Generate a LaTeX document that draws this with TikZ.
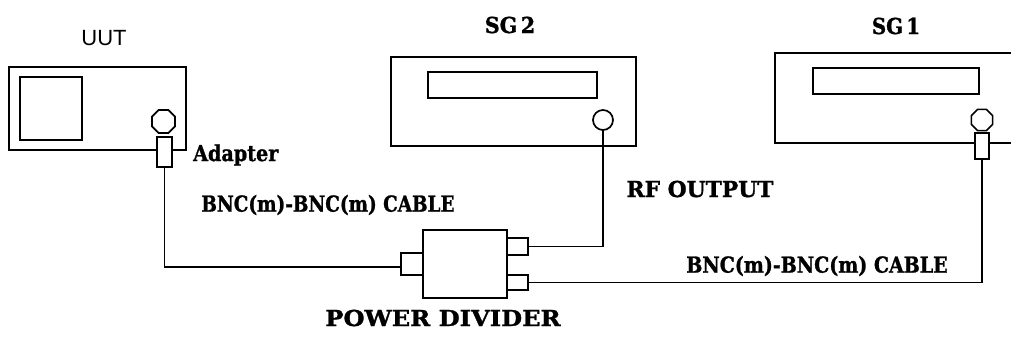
\documentclass[tikz,border=0pt]{standalone}
\usepackage{fontspec}
\setmainfont{DejaVu Serif}[BoldFeatures={FakeBold=1.2}]
\newfontfamily\labelsans{Liberation Sans}
\usetikzlibrary{shapes.geometric}
\newcommand{\sx}[2]{\scalebox{#1}[1]{#2}}
\tikzset{
  unit/.style={draw, line width=1.9pt, inner sep=0pt, outer sep=0pt, anchor=north west, fill=white},
  portbox/.style={draw, line width=1.7pt, inner sep=0pt, outer sep=0pt, anchor=north west, fill=white},
  octo/.style={draw, line width=1.7pt, regular polygon, regular polygon sides=8, inner sep=0pt, outer sep=0pt, fill=white},
  jack/.style={draw, line width=1.7pt, circle, inner sep=0pt, outer sep=0pt, fill=white},
  cable/.style={line width=1.5pt},
  lbl/.style={font=\bfseries\fontsize{22}{26}\selectfont, inner sep=0pt},
  sanslbl/.style={font=\labelsans\fontsize{22}{26}\selectfont, inner sep=0pt}
}
\begin{document}
\begin{tikzpicture}[x=1pt, y=-1pt]
\useasboundingbox (0,0) rectangle (1011,339);
% UUT
\node[unit, minimum width=177pt, minimum height=83pt] (uut) at (9,67) {};
\node[unit, minimum width=62pt, minimum height=63pt] (screen) at (20,77) {};
\node[octo, minimum size=25pt] (uutoct) at (163.5,121.5) {};
\node[portbox, minimum width=15pt, minimum height=30pt] (uutad) at (157,137) {};
% SG2
\node[unit, minimum width=245pt, minimum height=89pt] (sg2) at (391,57) {};
\node[unit, minimum width=169pt, minimum height=26pt] (sg2disp) at (428,72) {};
\node[jack, minimum size=20pt] (sg2c) at (603,120) {};
% SG1
\node[unit, minimum width=260pt, minimum height=90pt] (sg1) at (775,53) {};
\node[unit, minimum width=166pt, minimum height=26pt] (sg1disp) at (813,68) {};
\node[octo, minimum size=23pt] (sg1oct) at (982,120) {};
\node[portbox, minimum width=14pt, minimum height=26pt] (sg1ad) at (975,133) {};
% power divider
\node[unit, minimum width=84pt, minimum height=68pt] (pd) at (423,230) {};
\node[portbox, minimum width=22pt, minimum height=22pt] (inport) at (401,253) {};
\node[portbox, minimum width=21pt, minimum height=17pt] (out1) at (507,238) {};
\node[portbox, minimum width=21pt, minimum height=15pt] (out2) at (507,275) {};
% cables
\draw[cable] (uutad.south) |- ([yshift=-3pt]inport.west);
\draw[cable] (sg2c.south) |- (out1.east);
\draw[cable] (sg1ad.south) |- (out2.east);
% labels
\node[sanslbl] (tuut) at (104,38) {UUT};
\node[lbl] (tsg2) at (510,25) {\sx{0.94}{SG\,2}};
\node[lbl] (tsg1) at (896,26) {\sx{0.9}{SG\,1}};
\node[lbl, anchor=west] (tad) at (193,155) {\sx{0.87}{Adapter}};
\node[lbl] (tbnc1) at (328,205) {\sx{0.836}{BNC(m)-BNC(m) CABLE}};
\node[lbl] (trf) at (700,189) {\sx{0.99}{RF OUTPUT}};
\node[lbl] (tbnc2) at (817,266) {\sx{0.863}{BNC(m)-BNC(m) CABLE}};
\node[lbl] (tpd) at (443,318) {\sx{1.1}{POWER DIVIDER}};
\end{tikzpicture}
\end{document}
